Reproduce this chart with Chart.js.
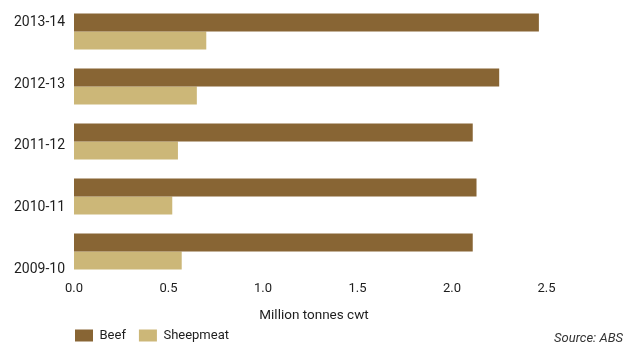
<!DOCTYPE html>
<html>
<head>
<meta charset="utf-8">
<script src="https://cdn.jsdelivr.net/npm/chart.js@4.4.1/dist/chart.umd.min.js"></script>
<style>
  html, body { margin: 0; padding: 0; background: #ffffff; }
  #wrap { width: 638px; height: 346px; position: relative; }
</style>
</head>
<body>
<div id="wrap"><canvas id="chart"></canvas></div>
<script>
// Production, million tonnes carcase weight
const categories = ['2013-14', '2012-13', '2011-12', '2010-11', '2009-10'];
const beef = [2.46, 2.25, 2.11, 2.13, 2.11];
const sheepmeat = [0.70, 0.65, 0.55, 0.52, 0.57];
const xTickValues = [0, 0.5, 1.0, 1.5, 2.0, 2.5];
const seriesNames = ['Beef', 'Sheepmeat'];
const seriesColors = ['#886534', '#ccb778'];

const FONT = 'Roboto, "Liberation Sans", Arial, sans-serif';
const TEXT = '#1e1e1e';

// Source line in the bottom-right corner
const sourceNote = {
  id: 'sourceNote',
  afterDraw(chart) {
    const ctx = chart.ctx;
    ctx.save();
    ctx.font = 'italic 13px ' + FONT;
    ctx.fillStyle = '#333333';
    ctx.textAlign = 'right';
    ctx.textBaseline = 'middle';
    ctx.fillText('Source: ABS', chart.width - 15, 338.5);
    ctx.restore();
  }
};

// Start the legend row under the left edge of the plot
const legendUnderPlot = {
  id: 'legendUnderPlot',
  afterLayout(chart) {
    const lg = chart.legend;
    if (lg) lg.left = chart.chartArea.left - lg.options.labels.padding + 1;
  }
};

new Chart(document.getElementById('chart'), {
  type: 'bar',
  data: {
    labels: categories,
    datasets: [
      { label: seriesNames[0], data: beef, backgroundColor: seriesColors[0] },
      { label: seriesNames[1], data: sheepmeat, backgroundColor: seriesColors[1] }
    ]
  },
  options: {
    indexAxis: 'y',
    responsive: true,
    maintainAspectRatio: false,
    animation: false,
    categoryPercentage: 0.655,
    barPercentage: 1.0,
    layout: { padding: { left: 0, right: 84, top: 4, bottom: -6 } },
    scales: {
      x: {
        type: 'linear',
        min: 0,
        max: 2.54,
        grid: { display: false, drawTicks: false },
        border: { display: false },
        afterBuildTicks: (axis) => { axis.ticks = xTickValues.map(v => ({ value: v })); },
        ticks: {
          padding: 2,
          color: TEXT,
          font: { family: FONT, size: 13 },
          callback: (v) => Number(v).toFixed(1)
        },
        title: {
          display: true,
          text: 'Million tonnes cwt',
          color: TEXT,
          font: { family: FONT, size: 13.5 },
          padding: { top: 9.2, bottom: -8 }
        }
      },
      y: {
        display: false
      },
      // category names, spread down the left side
      yLabels: {
        type: 'linear',
        position: 'left',
        offset: false,
        min: -0.21,
        max: 4.24,
        grid: { display: false, drawTicks: false, offset: false },
        border: { display: false },
        afterBuildTicks: (axis) => { axis.ticks = categories.map((_, i) => ({ value: i })); },
        afterFit: (axis) => {
          axis.width = 74;
          axis.paddingTop = 0;
          axis.paddingBottom = 0;
        },
        ticks: {
          padding: 9,
          labelOffset: 3.5,
          color: TEXT,
          font: { family: FONT, size: 14 },
          callback: (v) => categories[categories.length - 1 - v]
        }
      }
    },
    plugins: {
      legend: {
        position: 'bottom',
        align: 'start',
        labels: {
          boxWidth: 18,
          boxHeight: 12,
          padding: 13,
          color: TEXT,
          font: { family: FONT, size: 13 }
        }
      },
      tooltip: { enabled: false }
    }
  },
  plugins: [sourceNote, legendUnderPlot]
});
</script>
</body>
</html>
